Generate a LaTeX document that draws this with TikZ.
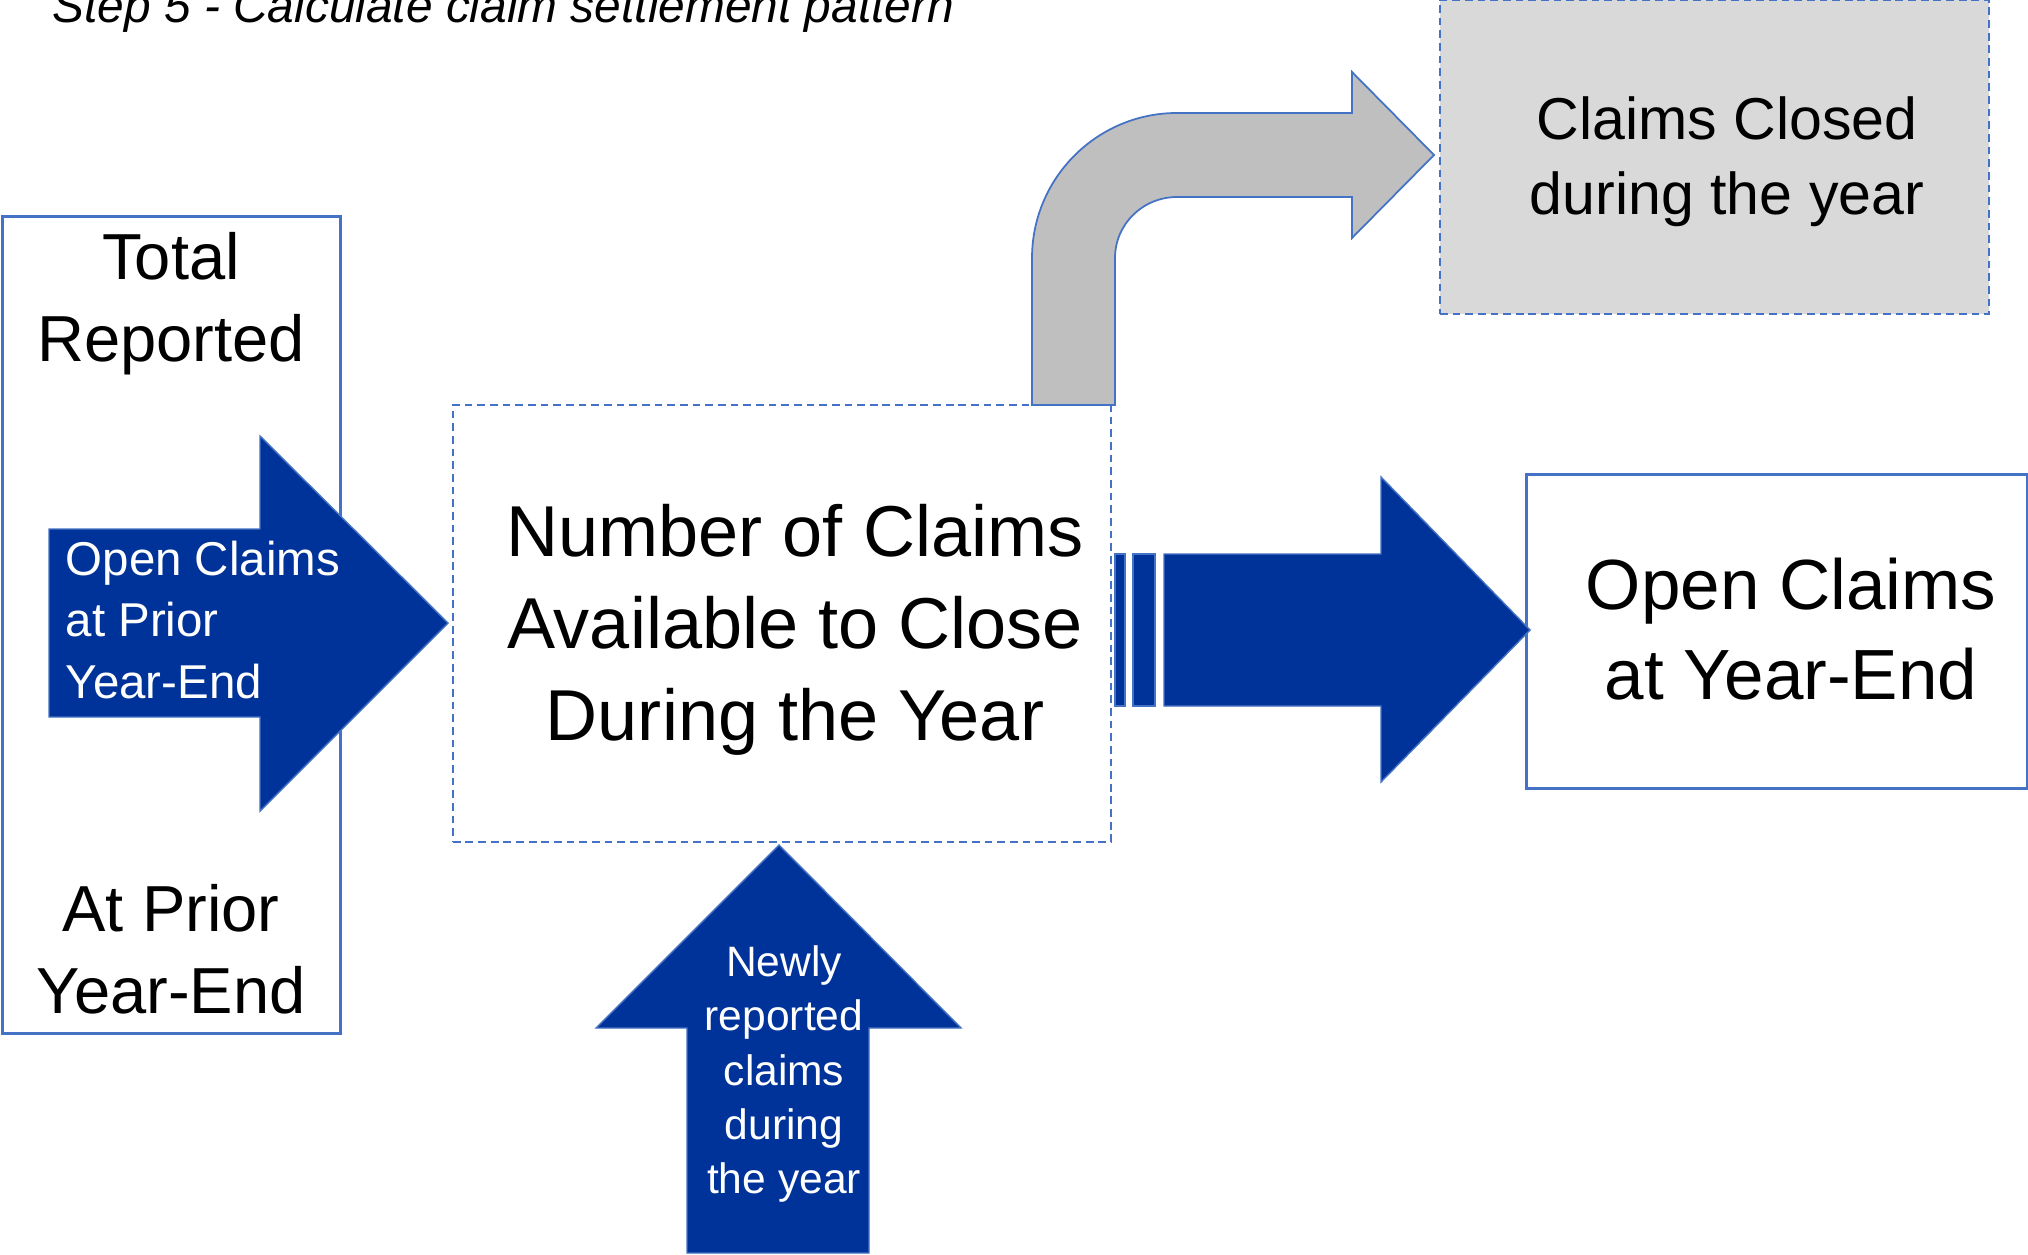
\documentclass[tikz,border=0pt]{standalone}
\usepackage{fontspec}
\setmainfont{Liberation Sans}
\usetikzlibrary{positioning}
\definecolor{claimBlue}{RGB}{0,51,153}
\definecolor{edgeBlue}{RGB}{68,114,196}
\definecolor{closedGrey}{RGB}{217,217,217}
\definecolor{bendGrey}{RGB}{191,191,191}
\newcommand{\fs}[2]{\fontsize{#1}{#2}\selectfont}

\begin{document}
\begin{tikzpicture}[x=0.01cm,y=-0.01cm,
    frame/.style={draw=edgeBlue,line width=0.9pt,fill=white,inner sep=0pt},
    dashframe/.style={draw=edgeBlue,line width=0.6pt,dash pattern=on 2.2pt off 1.4pt,inner sep=0pt},
    blk/.style={fill=claimBlue,draw=edgeBlue,line width=0.4pt},
    txt/.style={inner sep=0pt,align=center}]
    \useasboundingbox (0,0) rectangle (2028,1255);
    \node[inner sep=0pt,anchor=base west,font=\fs{13.6}{16}\itshape] (title) at (52,23)
      {Step 5 - Calculate claim settlement pattern};
    % boxes
    \node[frame,minimum width=3.37cm,minimum height=8.16cm] (prior) at (171.5,625) {};
    \node[dashframe,minimum width=6.58cm,minimum height=4.37cm] (avail) at (782,623.5) {};
    \node[frame,minimum width=5cm,minimum height=3.13cm] (yearend) at (1777,631.5) {};
    \node[dashframe,fill=closedGrey,minimum width=5.49cm,minimum height=3.14cm] (closed) at (1714.5,157) {};
    \node[txt,font=\fs{18.5}{23.4}] (totrep) at (171,304) {Total\\Reported};
    \node[txt,font=\fs{18.5}{23.4}] (atprior) at (171,949) {At Prior\\Year-End};
    % arrows
    \draw[blk] (49,529) -- (260,529) -- (260,436) -- (448,623) -- (260,811)
      -- (260,717) -- (49,717) -- cycle;
    \draw[blk] (687,1253) -- (687,1028) -- (596,1028) -- (779,845) -- (961,1028)
      -- (869,1028) -- (869,1253) -- cycle;
    \foreach \a/\b in {1115/1125,1133/1155} \draw[blk] (\a,554) rectangle (\b,706);
    \draw[blk] (1164,554) -- (1381,554) -- (1381,477) -- (1530,630) -- (1381,782)
      -- (1381,706) -- (1164,706) -- cycle;
    \draw[fill=bendGrey,draw=edgeBlue,line width=0.5pt] (1032,405) -- (1032,258)
      .. controls (1032,178) and (1097,113) .. (1177,113) -- (1352,113) -- (1352,72)
      -- (1434,155) -- (1352,238) -- (1352,197) -- (1177,197)
      .. controls (1143,197) and (1115,224) .. (1115,258) -- (1115,405) -- cycle;
    % labels
    \node[txt,align=left,anchor=west,text=white,font=\fs{13.5}{17.4}] (opencl) at (65,620)
      {Open Claims\\at Prior\\Year-End};
    \node[txt,font=\fs{20.5}{26.2}] (availtxt) at ([xshift=0.13cm,yshift=-0.06cm]avail.center)
      {Number of Claims\\Available to Close\\During the Year};
    \node[txt,font=\fs{20.2}{25.6}] (yeartxt) at (1791,629) {Open Claims\\at Year-End};
    \node[txt,font=\fs{16.8}{21.3}] (closedtxt) at (1727,162) {Claims Closed\\during the year};
    \node[txt,text=white,font=\fs{12.1}{15.4}] (newtxt) at (784,1074)
      {Newly\\reported\\claims\\during\\the year};
\end{tikzpicture}
\end{document}
